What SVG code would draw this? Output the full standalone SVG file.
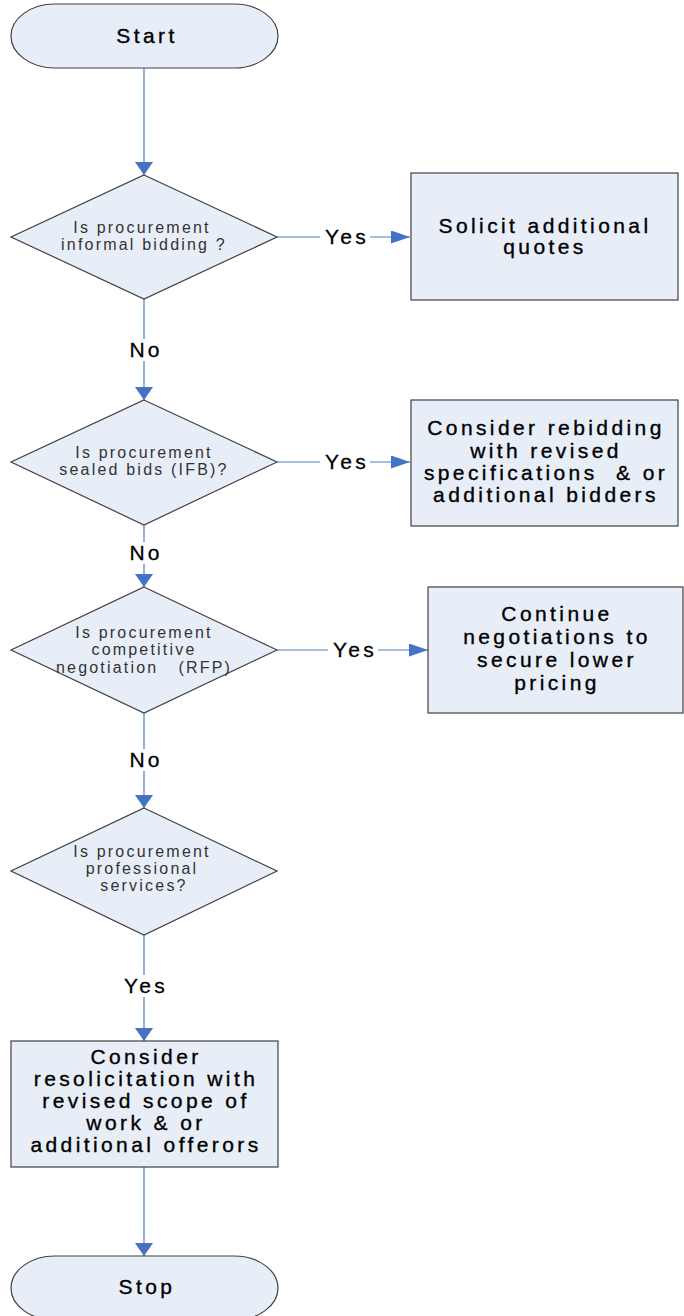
<svg xmlns="http://www.w3.org/2000/svg" width="684" height="1316" viewBox="0 0 684 1316">
<style>
.shape{fill:#e8eef8;stroke:#404040;stroke-width:1.2}
.q{font-family:"Liberation Sans",Arial,sans-serif;font-size:16px;letter-spacing:2.2px;fill:#333;text-anchor:middle;white-space:pre}
.t{font-family:"Liberation Sans",Arial,sans-serif;font-size:21px;letter-spacing:3.4px;fill:#000;stroke:#000;stroke-width:0.35;text-anchor:middle;white-space:pre}
.lbl{font-family:"Liberation Sans",Arial,sans-serif;font-size:21px;letter-spacing:3.2px;fill:#000;stroke:#000;stroke-width:0.3;text-anchor:middle}
.c{fill:none;stroke:#4a7ebb;stroke-width:1.2}
.bg{fill:#fff}
</style>
<defs>
<marker id="arrV" markerUnits="userSpaceOnUse" viewBox="0 0 13 18" refX="13" refY="9" markerWidth="13" markerHeight="18" orient="auto">
<path d="M0,0 L13,9 L0,18 z" fill="#4472c4"/>
</marker>
<marker id="arrH" markerUnits="userSpaceOnUse" viewBox="0 0 19 13" refX="19" refY="6.5" markerWidth="19" markerHeight="13" orient="auto">
<path d="M0,0 L19,6.5 L0,13 z" fill="#4472c4"/>
</marker>
</defs>
<rect width="684" height="1316" fill="#fff"/>
<g id="connectors">
<path class="c" d="M144,68 V175" marker-end="url(#arrV)"/>
<path class="c" d="M277,237 H410" marker-end="url(#arrH)"/>
<path class="c" d="M144,299 V400" marker-end="url(#arrV)"/>
<path class="c" d="M277,462 H410" marker-end="url(#arrH)"/>
<path class="c" d="M144,525 V587" marker-end="url(#arrV)"/>
<path class="c" d="M277,650 H428" marker-end="url(#arrH)"/>
<path class="c" d="M144,713 V808" marker-end="url(#arrV)"/>
<path class="c" d="M144,935 V1041" marker-end="url(#arrV)"/>
<path class="c" d="M144,1167 V1256" marker-end="url(#arrV)"/>
<rect class="bg" x="320" y="226" width="50" height="22"/>
<text class="lbl" x="347" y="244">Yes</text>
<rect class="bg" x="124" y="339" width="40" height="22"/>
<text class="lbl" x="146" y="357">No</text>
<rect class="bg" x="320" y="451" width="50" height="22"/>
<text class="lbl" x="347" y="469">Yes</text>
<rect class="bg" x="124" y="542" width="40" height="22"/>
<text class="lbl" x="146" y="560">No</text>
<rect class="bg" x="328" y="639" width="50" height="22"/>
<text class="lbl" x="355" y="657">Yes</text>
<rect class="bg" x="124" y="749" width="40" height="22"/>
<text class="lbl" x="146" y="767">No</text>
<rect class="bg" x="119" y="975" width="50" height="22"/>
<text class="lbl" x="146" y="993">Yes</text>
</g>
<g id="start">
<rect class="shape" x="11" y="4" width="267" height="64" rx="44" ry="32"/>
<text class="t" x="147" y="43">Start</text>
</g>
<g id="d1">
<polygon class="shape" points="144,175 277,237 144,299 11,237"/>
<text class="q" x="142" y="233">Is procurement</text>
<text class="q" x="144" y="250">informal bidding ?</text>
</g>
<g id="r1">
<rect class="shape" x="411" y="173" width="267" height="127"/>
<text class="t" x="545" y="233">Solicit additional</text>
<text class="t" x="545" y="254">quotes</text>
</g>
<g id="d2">
<polygon class="shape" points="144,400 277,462 144,525 11,462"/>
<text class="q" x="144" y="458">Is procurement</text>
<text class="q" x="144" y="475">sealed bids (IFB)?</text>
</g>
<g id="r2">
<rect class="shape" x="411" y="400" width="267" height="126"/>
<text class="t" x="546" y="435">Consider rebidding</text>
<text class="t" x="546" y="458">with revised</text>
<text class="t" x="546" y="480">specifications  &amp; or</text>
<text class="t" x="546" y="502">additional bidders</text>
</g>
<g id="d3">
<polygon class="shape" points="144,587 277,650 144,713 11,650"/>
<text class="q" x="144" y="638">Is procurement</text>
<text class="q" x="144" y="655">competitive</text>
<text class="q" x="144" y="673">negotiation   (RFP)</text>
</g>
<g id="r3">
<rect class="shape" x="428" y="587" width="255" height="126"/>
<text class="t" x="557" y="621">Continue</text>
<text class="t" x="557" y="644">negotiations to</text>
<text class="t" x="557" y="667">secure lower</text>
<text class="t" x="557" y="690">pricing</text>
</g>
<g id="d4">
<polygon class="shape" points="144,808 277,871 144,935 11,871"/>
<text class="q" x="142" y="857">Is procurement</text>
<text class="q" x="142" y="874">professional</text>
<text class="q" x="144" y="891">services?</text>
</g>
<g id="r4">
<rect class="shape" x="11" y="1041" width="267" height="126"/>
<text class="t" x="146" y="1064">Consider</text>
<text class="t" x="146" y="1086">resolicitation with</text>
<text class="t" x="146" y="1108">revised scope of</text>
<text class="t" x="146" y="1130">work &amp; or</text>
<text class="t" x="146" y="1152">additional offerors</text>
</g>
<g id="stop">
<rect class="shape" x="11" y="1256" width="267" height="64" rx="44" ry="32"/>
<text class="t" x="147" y="1294">Stop</text>
</g>
</svg>
